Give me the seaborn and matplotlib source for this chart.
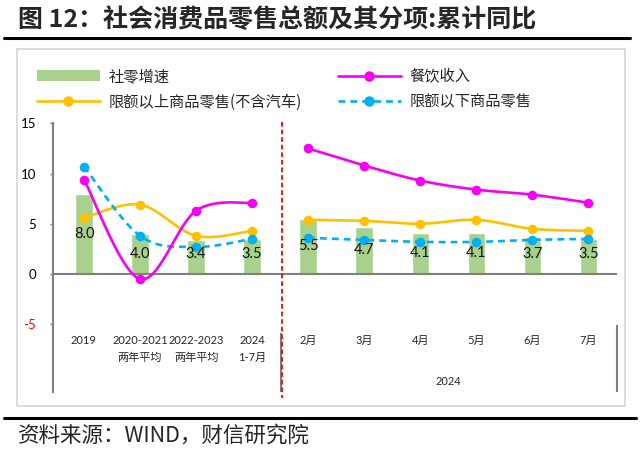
import numpy as np
import matplotlib
matplotlib.use("Agg")
import matplotlib.pyplot as plt
import seaborn as sns
import pandas as pd
from matplotlib.lines import Line2D
from matplotlib.patches import Patch, Rectangle

# ---------------- data ----------------
cat_top = ["2019", "2020-2021", "2022-2023", "2024", "2月", "3月", "4月", "5月", "6月", "7月"]
cat_bottom = ["", "两年平均", "两年平均", "1-7月", "", "", "", "", "", ""]
group_label = "2024"
retail_total = [8.0, 4.0, 3.4, 3.5, 5.5, 4.7, 4.1, 4.1, 3.7, 3.5]          # 社零增速
catering = [9.4, -0.5, 6.3, 7.1, 12.5, 10.8, 9.3, 8.4, 7.9, 7.1]           # 餐饮收入
above_limit = [5.6, 6.9, 3.8, 4.3, 5.4, 5.3, 5.0, 5.4, 4.5, 4.3]           # 限额以上商品零售(不含汽车)
below_limit = [10.7, 3.8, 2.7, 3.5, 3.6, 3.4, 3.2, 3.2, 3.4, 3.5]          # 限额以下商品零售
segments = [(0, 4), (4, 10)]
y_ticks = [-5, 0, 5, 10, 15]

title = "图 12：社会消费品零售总额及其分项:累计同比"
source = "资料来源：WIND，财信研究院"

GREEN = "#A9D18E"
MAGENTA = "#F500F5"
GOLD = "#FFC000"
BLUE = "#00B0F0"
GREY = "#808080"
RED = "#FF0000"


def smooth(xs, ys, n=30):
    """Excel-like smoothed line (Catmull-Rom as cubic Bezier)."""
    P = np.column_stack([xs, ys]).astype(float)
    out = [P[0]]
    t = np.linspace(0, 1, n)[1:, None]
    for i in range(len(P) - 1):
        p0 = P[i - 1] if i > 0 else P[i]
        p1, p2 = P[i], P[i + 1]
        p3 = P[i + 2] if i + 2 < len(P) else P[i + 1]
        c1 = p1 + (p2 - p0) / 6
        c2 = p2 - (p3 - p1) / 6
        B = (1 - t) ** 3 * p1 + 3 * (1 - t) ** 2 * t * c1 + 3 * (1 - t) * t ** 2 * c2 + t ** 3 * p2
        out.extend(B)
    out = np.array(out)
    return out[:, 0], out[:, 1]


sns.set_theme(style="white")
plt.rcParams["font.family"] = ["Noto Sans CJK SC", "DejaVu Sans"]
plt.rcParams["axes.unicode_minus"] = False

W, H = 640, 451
fig = plt.figure(figsize=(6.4, 4.51), dpi=100)
ax_l, ax_r, ax_t, ax_b = 53.3, 616.7, 123.3, 392
ax = fig.add_axes([ax_l / W, 1 - ax_b / H, (ax_r - ax_l) / W, (ax_b - ax_t) / H])

df = pd.DataFrame({"cat": cat_top, "v": retail_total})
sns.barplot(data=df, x="cat", y="v", order=cat_top, color=GREEN, width=0.31,
            saturation=1, ax=ax, zorder=2)

xs_all = np.arange(len(cat_top))
for vals, col, dashed in [(above_limit, GOLD, False), (below_limit, BLUE, True), (catering, MAGENTA, False)]:
    for a, b in segments:
        xs = xs_all[a:b]
        ys = vals[a:b]
        sx, sy = smooth(xs, ys)
        kw = dict(dashes=(2.6, 1.9)) if dashed else {}
        ax.plot(sx, sy, color=col, lw=1.9, zorder=3, solid_capstyle="round", **kw)
    sns.scatterplot(x=xs_all, y=vals, color=col, s=48, linewidth=0, ax=ax, zorder=4)

# bar value labels
for i, v in enumerate(retail_total):
    ax.text(i, max(v / 2, 2.0), f"{v:.1f}", ha="center", va="center", fontsize=10.5,
            family=["Lato", "DejaVu Sans"], color="#111111", zorder=5)

ax.axhline(0, color=GREY, lw=1.5, zorder=2.5)

ax.set_xlim(-0.548, 9.507)
ax.set_ylim(-11.74, 15)
ax.set_xticks([])
ax.set_xlabel("")
ax.set_ylabel("")
ax.set_yticks(y_ticks)
ax.set_yticklabels([str(v) for v in y_ticks], family=["Lato", "DejaVu Sans"], fontsize=9.5)
ax.tick_params(axis="y", length=2.5, width=1, color=GREY, direction="out", pad=10, left=True)
for lbl in ax.get_yticklabels():
    lbl.set_color(RED if lbl.get_text() == "-5" else "black")
for s in ["top", "right", "bottom"]:
    ax.spines[s].set_visible(False)
ax.spines["left"].set_color(GREY)
ax.spines["left"].set_linewidth(1.5)
ax.grid(False)

# category labels (multi-level axis)
for i, (t1, t2) in enumerate(zip(cat_top, cat_bottom)):
    ax.text(i, -6.64, t1, ha="center", va="center", fontsize=8,
            family=["Lato", "Noto Sans CJK SC"], clip_on=False)
    if t2:
        ax.text(i, -8.3, t2, ha="center", va="center", fontsize=8,
                family=["Lato", "Noto Sans CJK SC"], clip_on=False)
ax.text(6.5, -10.7, group_label, ha="center", va="center", fontsize=8,
        family=["Lato", "Noto Sans CJK SC"], clip_on=False)
ax.vlines(3.51, -5.9, -11.74, color=GREY, lw=1.5, clip_on=False)
ax.vlines(9.505, -5.1, -11.74, color=GREY, lw=1.5, clip_on=False)
ax.plot([3.535, 3.535], [15.1, -12.3], color=RED, lw=1.3, dashes=(2.6, 1.6), clip_on=False, zorder=6)

# legends
fs_leg = 11
h1 = [Patch(facecolor=GREEN, edgecolor="none"),
      Line2D([], [], color=GOLD, lw=1.9, marker="o", ms=6.5)]
h2 = [Line2D([], [], color=MAGENTA, lw=1.9, marker="o", ms=6.5),
      Line2D([], [], color=BLUE, lw=1.9, marker="o", ms=6.5, dashes=(2.6, 1.9))]
common = dict(loc="upper left", frameon=False, fontsize=fs_leg, handlelength=4.1,
              handletextpad=0.6, labelspacing=0.55, borderpad=0, borderaxespad=0, numpoints=1)
fig.legend(h1, ["社零增速", "限额以上商品零售(不含汽车)"], bbox_to_anchor=(37 / W, 1 - 68 / H), **common)
fig.legend(h2, ["餐饮收入", "限额以下商品零售"], bbox_to_anchor=(338 / W, 1 - 68 / H), **common)

# frame & rules
fig.add_artist(Rectangle((16.7 / W, 1 - 406 / H), (625 - 16.7) / W, (406 - 49) / H,
                         transform=fig.transFigure, fill=False, edgecolor="#D9D9D9", lw=1.3))
fig.add_artist(Line2D([4 / W, 630 / W], [1 - 38 / H] * 2, color="black", lw=2.2, transform=fig.transFigure))
fig.add_artist(Line2D([4 / W, 636 / W], [1 - 418 / H] * 2, color="black", lw=2.2, transform=fig.transFigure))

fig.text(18 / W, 1 - 20 / H, title, fontsize=18, fontweight="bold", va="center", ha="left")
fig.text(18 / W, 1 - 436 / H, source, fontsize=15.5, style="italic", va="center", ha="left")

fig.savefig("out.png", dpi=100)
